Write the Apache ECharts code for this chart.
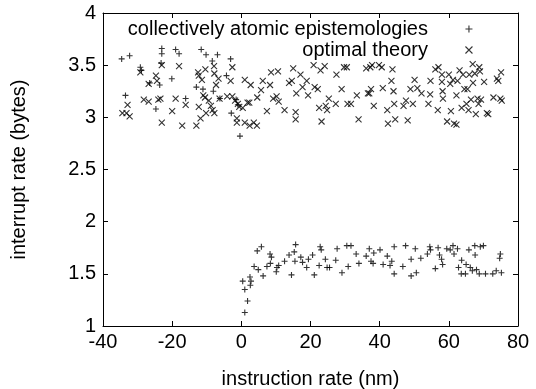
<!DOCTYPE html>
<html>
<head>
<meta charset="utf-8">
<script src="https://cdn.jsdelivr.net/npm/echarts@6/dist/echarts.min.js"></script>
<style>
  html, body { margin: 0; padding: 0; background: #fff; }
  #chart { width: 536px; height: 389px; }
</style>
</head>
<body>
<div id="chart"></div>
<script>
// axis ticks
const xTicks = [-40, -20, 0, 20, 40, 60, 80];
const yTicks = [1, 1.5, 2, 2.5, 3, 3.5, 4];

// collectively atomic epistemologies (+)
const epiX = [-34.6, -32.3, -33.5, -29.2, -28.9, -24.7, -23.0, -23.0, -23.2, -23.6, -26.5, -20.1, -19.0, -18.0, -16.1,
  -13.0, -11.6, -10.2, -11.1, -8.4, -8.1, -6.9, -6.2, -3.1, -4.3, -2.9, -1.5, -1.0, -0.4,
  0.4, 1.0, 1.8, 1.0, 2.5, 2.8, 2.6, 3.7, 4.6, 5.8, 4.9, 6.3, 7.4, 8.3, 8.7, 8.4, 10.3, 10.1, 10.8, 12.5, 13.8,
  14.5, 15.3, 15.7, 15.5, 17.2, 17.7, 18.9, 19.4, 20.6, 21.1, 22.5, 22.8, 23.1, 24.3, 24.8, 25.5, 27.3, 27.7,
  29.1, 30.5, 31.7, 30.9, 33.2, 34.0, 36.1, 37.0, 37.5, 38.1, 38.3, 40.1, 41.0, 42.2, 43.0, 43.5, 44.2, 44.2,
  46.7, 47.5, 49.1, 49.1, 50.3, 50.6, 51.9, 53.8, 54.5, 54.7, 56.1, 56.9, 57.3, 57.9, 58.2, 59.4, 60.4, 61.2,
  61.5, 62.5, 62.8, 63.6, 63.7, 64.8, 65.0, 65.8, 66.2, 66.8, 67.5, 67.6, 68.0, 68.8, 69.1, 70.0, 70.6, 72.7,
  73.7, 74.7, 74.9, 75.2];
const epiY = [3.56, 3.59, 3.21, 3.48, 3.45, 3.08, 3.66, 3.61, 3.52, 3.31, 3.33, 3.37, 3.65, 3.61, 3.18,
  3.29, 3.65, 3.60, 3.27, 3.54, 3.25, 3.60, 3.18, 3.56, 3.40, 3.04, 3.17, 3.12, 2.82,
  1.43, 1.35, 1.24, 1.13, 1.47, 1.43, 1.39, 1.57, 1.72, 1.76, 1.54, 1.48, 1.57, 1.69, 1.66, 1.60, 1.56, 1.52, 1.58, 1.62, 1.68,
  1.49, 1.71, 1.78, 1.62, 1.66, 1.61, 1.56, 1.64, 1.68, 1.49, 1.58, 1.76, 1.73, 1.64, 1.56, 1.56, 1.63, 1.74,
  1.51, 1.77, 1.77, 1.57, 1.69, 1.60, 1.67, 1.74, 1.62, 1.60, 1.70, 1.73, 1.59, 1.67, 1.58, 1.62, 1.76, 1.50,
  1.57, 1.77, 1.48, 1.64, 1.74, 1.51, 1.65, 1.69, 1.76, 1.73, 1.55, 1.75, 1.68, 1.64, 1.59, 1.74, 1.73, 1.77,
  1.69, 1.74, 1.56, 1.50, 1.63, 1.50, 1.59, 1.73, 1.56, 1.53, 1.77, 1.68, 1.54, 1.50, 1.76, 1.77, 1.50, 1.50,
  1.53, 1.65, 1.69, 1.51];

// optimal theory (x)
const optX = [-34.4, -33.2, -32.3, -32.9, -29.2, -28.2, -26.8, -26.8, -24.7, -24.4, -24.0, -23.4, -23.0, -23.0,
  -20.0, -19.0, -18.0, -17.1, -16.1, -13.0, -12.5, -12.3, -12.3, -11.8, -11.4, -11.0, -10.5, -10.4, -10.2, -9.4,
  -8.8, -8.3, -7.9, -7.8, -7.8, -7.3, -6.6, -6.3, -4.1, -3.1, -2.6, -2.6, -1.8, -1.3, -1.3, -1.0, -0.6,
  0.4, 1.0, 1.0, 1.8, 2.3, 2.4, 2.7, 3.6, 4.5, 4.6, 5.7, 6.2, 7.4, 8.3, 8.6, 9.2, 10.2, 10.6, 10.8, 12.5, 13.8,
  14.6, 15.0, 15.7, 15.7, 15.9, 17.1, 17.7, 18.9, 19.3, 20.9, 21.2, 22.1, 22.5, 22.9, 23.2, 24.1, 24.4, 24.8,
  25.3, 27.3, 27.5, 29.0, 29.7, 30.5, 30.7, 31.7, 33.4, 33.9, 36.1, 36.6, 37.0, 37.3, 37.8, 37.5, 38.3, 39.8,
  40.6, 40.9, 42.2, 42.4, 43.4, 43.7, 44.0, 44.5, 44.2, 46.9, 47.6, 48.1, 48.9, 49.6, 50.1, 50.9, 52.1, 54.1,
  54.6, 54.7, 56.1, 57.0, 56.8, 58.0, 58.0, 58.2, 58.3, 59.5, 60.0, 60.4, 60.6, 61.2, 61.5, 62.2, 62.2, 62.5,
  63.1, 63.7, 64.1, 64.5, 65.1, 65.4, 65.7, 65.9, 66.4, 66.9, 67.0, 67.5, 67.8, 68.3, 68.6, 68.8, 69.0, 69.3,
  70.2, 71.0, 71.4, 72.9, 73.9, 74.3, 75.1, 74.9, 75.3];
const optY = [3.04, 3.04, 3.01, 3.12, 3.43, 3.17, 3.32, 3.15, 3.40, 3.35, 3.17, 3.18, 3.50, 2.95,
  3.06, 3.18, 3.49, 2.92, 3.12, 2.92, 3.43, 3.40, 3.10, 2.99, 3.36, 3.21, 3.19, 3.46, 3.04, 3.16,
  3.11, 3.07, 3.49, 3.42, 3.04, 3.31, 3.37, 3.18, 3.20, 3.35, 3.48, 3.20, 3.16, 2.99, 2.95, 3.13, 3.10,
  3.09, 3.36, 2.95, 3.14, 3.14, 2.92, 3.31, 2.95, 2.92, 3.19, 3.26, 3.35, 3.06, 3.31, 3.43, 3.18, 3.20, 3.44, 3.15, 3.07, 3.33,
  3.35, 3.47, 3.05, 2.98, 3.23, 3.41, 3.29, 3.35, 3.21, 3.50, 3.29, 3.27, 3.09, 3.45, 2.96, 3.49, 3.11, 3.07,
  3.18, 3.13, 3.41, 3.27, 3.48, 3.48, 3.13, 3.13, 3.21, 2.98, 3.47, 3.23, 3.23, 3.48, 3.50, 3.27, 3.11, 3.50,
  3.48, 3.28, 3.07, 2.94, 3.35, 3.46, 3.25, 2.98, 3.13, 3.11, 3.16, 2.97, 3.27, 3.13, 3.36, 3.28, 3.23, 3.13,
  3.22, 3.35, 3.46, 3.48, 3.07, 3.41, 3.34, 3.25, 3.18, 2.96, 3.41, 3.32, 3.06, 3.36, 2.94, 2.93, 3.21, 3.35,
  3.45, 3.09, 3.41, 3.27, 3.13, 3.27, 3.07, 3.41, 3.17, 3.51, 3.33, 3.42, 3.03, 3.18, 3.13, 3.48, 3.44, 3.17,
  3.34, 3.04, 3.03, 3.19, 3.37, 3.35, 3.43, 3.18, 3.16];

const PLUS = 'path://M0,4L8,4M4,0L4,8';
const CROSS = 'path://M0,0L8,8M8,0L0,8';
const FONT = '"Liberation Sans", Arial, Helvetica, sans-serif';

const zip = (xs, ys) => xs.map((x, i) => [x, ys[i]]);

const markStyle = {color: 'transparent', borderColor: '#000', borderWidth: 1.1};

const tickOpts = {show: true, inside: true, length: 5, lineStyle: {color: '#000', width: 1}};
const lineOpts = {show: true, onZero: false, lineStyle: {color: '#000', width: 1}};

const chart = echarts.init(document.getElementById('chart'), null, {renderer: 'canvas'});

const option = {
    animation: false,
    backgroundColor: '#fff',
    textStyle: {fontFamily: FONT, color: '#000'},
    grid: {left: 103, right: 18, top: 13, bottom: 63, outerBoundsMode: 'none'},
    legend: {
        orient: 'vertical',
        align: 'right',
        right: 63,
        top: 19,
        padding: 0,
        itemGap: 1,
        itemWidth: 72,
        itemHeight: 7,
        textStyle: {fontFamily: FONT, fontSize: 20, color: '#000', lineHeight: 20},
        data: [
            {name: 'collectively atomic epistemologies', icon: PLUS, itemStyle: markStyle},
            {name: 'optimal theory', icon: CROSS, itemStyle: markStyle}
        ]
    },
    xAxis: [
        {
            type: 'value',
            min: xTicks[0],
            max: xTicks[xTicks.length - 1],
            interval: xTicks[1] - xTicks[0],
            name: 'instruction rate (nm)',
            nameLocation: 'middle',
            nameGap: 43,
            nameTextStyle: {fontFamily: FONT, fontSize: 20, color: '#000'},
            axisLine: lineOpts,
            axisTick: tickOpts,
            splitLine: {show: false},
            axisLabel: {fontFamily: FONT, fontSize: 20, color: '#000', margin: 6}
        },
        {
            type: 'value',
            position: 'top',
            min: xTicks[0],
            max: xTicks[xTicks.length - 1],
            interval: xTicks[1] - xTicks[0],
            axisLine: lineOpts,
            axisTick: tickOpts,
            splitLine: {show: false},
            axisLabel: {show: false}
        }
    ],
    yAxis: [
        {
            type: 'value',
            min: yTicks[0],
            max: yTicks[yTicks.length - 1],
            interval: yTicks[1] - yTicks[0],
            name: 'interrupt rate (bytes)',
            nameLocation: 'middle',
            nameGap: 74,
            nameTextStyle: {fontFamily: FONT, fontSize: 20, color: '#000'},
            axisLine: lineOpts,
            axisTick: tickOpts,
            splitLine: {show: false},
            axisLabel: {fontFamily: FONT, fontSize: 20, color: '#000', margin: 7}
        },
        {
            type: 'value',
            position: 'right',
            min: yTicks[0],
            max: yTicks[yTicks.length - 1],
            interval: yTicks[1] - yTicks[0],
            axisLine: lineOpts,
            axisTick: tickOpts,
            splitLine: {show: false},
            axisLabel: {show: false}
        }
    ],
    series: [
        {
            name: 'collectively atomic epistemologies',
            type: 'scatter',
            xAxisIndex: 0,
            yAxisIndex: 0,
            symbol: PLUS,
            symbolSize: 6,
            itemStyle: markStyle,
            data: zip(epiX, epiY)
        },
        {
            name: 'optimal theory',
            type: 'scatter',
            xAxisIndex: 0,
            yAxisIndex: 0,
            symbol: CROSS,
            symbolSize: 6,
            itemStyle: markStyle,
            data: zip(optX, optY)
        }
    ]
};
chart.setOption(option);
</script>
</body>
</html>
